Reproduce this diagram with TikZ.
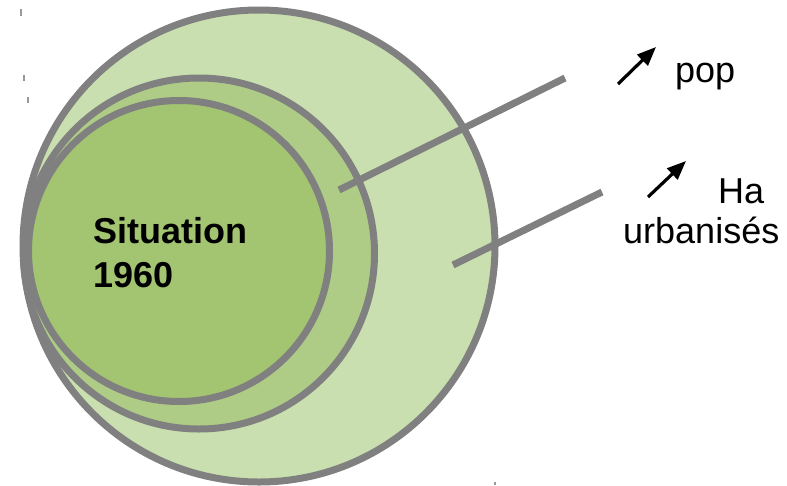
\documentclass[tikz,border=0pt]{standalone}
\usepackage{fontspec}
\setmainfont{Liberation Sans}
\usetikzlibrary{arrows.meta}
\definecolor{ringgray}{HTML}{808080}
\definecolor{greenA}{HTML}{C9DFB0}
\definecolor{greenB}{HTML}{AECC86}
\definecolor{greenC}{HTML}{A3C470}
\tikzset{
  ring/.style={draw=ringgray, line width=7pt},
  leader/.style={draw=ringgray, line width=7pt, line cap=butt},
  uparrow/.style={draw=black, line width=3.2pt, -{Triangle[length=19pt,width=15pt]}},
  tick/.style={draw=ringgray!80, line width=1.3pt},
  lbl/.style={inner sep=0pt, anchor=base west, align=left}
}
\begin{document}
\begin{tikzpicture}[x=1pt,y=-1pt]
\useasboundingbox (0,0) rectangle (787,485);
% ticks
\draw[tick] (21,9) -- (21,16);
\draw[tick] (24,75) -- (24,81);
\draw[tick] (28,97) -- (28,103);
\draw[tick] (331,399) -- (331,405);
\draw[tick] (376,427) -- (376,433);
\draw[tick] (495,482) -- (495,485);
% circles
\node[ring, fill=greenA, circle, minimum size=472pt, inner sep=0pt] (big) at (259,246) {};
\node[ring, fill=greenB, circle, minimum size=351pt, inner sep=0pt] (mid) at (199,253.5) {};
\node[ring, fill=greenC, circle, minimum size=301pt, inner sep=0pt] (inner) at (179,251) {};
% leader lines
\coordinate (l1a) at (339,190);
\coordinate (l1b) at (565,78);
\coordinate (l2a) at (453,265);
\coordinate (l2b) at (602,192);
\draw[leader] (l1a) -- (l1b);
\draw[leader] (l2a) -- (l2b);
% arrows
\coordinate (a1s) at (618,84);
\coordinate (a1e) at (656,47);
\coordinate (a2s) at (648,197);
\coordinate (a2e) at (686,161);
\draw[uparrow] (a1s) -- (a1e);
\draw[uparrow] (a2s) -- (a2e);
% text
\node[lbl, font=\fontsize{36}{44}\selectfont\bfseries] (sit) at (93,287) {Situation\\1960};
\node[lbl, font=\fontsize{36}{40}\selectfont] (pop) at (675,82) {pop};
\node[lbl, font=\fontsize{36}{40}\selectfont] (ha) at (623,243) {\hspace*{95pt}Ha\\urbanisés};
\end{tikzpicture}
\end{document}
